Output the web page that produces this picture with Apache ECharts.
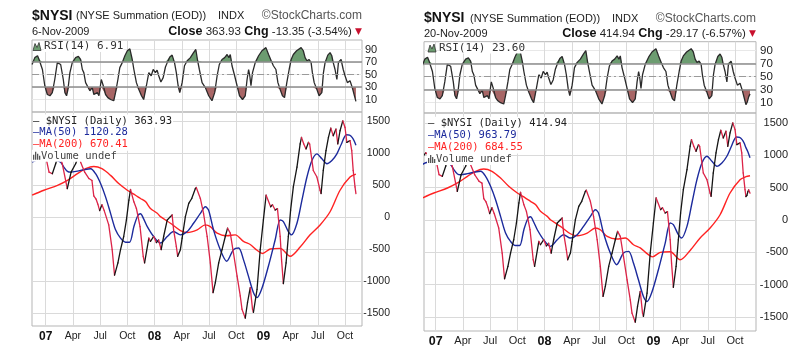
<!DOCTYPE html>
<html><head><meta charset="utf-8">
<script src="https://cdn.jsdelivr.net/npm/echarts@6/dist/echarts.min.js"></script>
<style>html,body{margin:0;padding:0;background:#fff}#c{width:807px;height:360px}</style>
</head><body><div id="c"></div>
<script>
// x = months since 1 Jan 2007
const xTickMonths = [0,3,6,9,12,15,18,21,24,27,30,33];
const xTickLabels = ['07','Apr','Jul','Oct','08','Apr','Jul','Oct','09','Apr','Jul','Oct'];
const rsiTicks = [10,30,50,70,90];
const mainTicks = [-1500,-1000,-500,0,500,1000,1500];

// $NYSI daily up to 6-Nov-2009
const nysi = [[-1.5,960],[-1.1,1040],[-0.7,990],[-0.3,1060],[0.1,882],[0.37,701],[0.73,676],[1.1,831],[1.45,1000],[1.83,831],[2.38,444],[2.8,700],[3.3,831],[3.7,980],[3.85,856],[4.3,700],[4.77,600],[5.1,570],[5.3,330],[5.55,280],[5.75,200],[5.95,100],[6.2,190],[6.45,100],[6.95,-124],[7.33,-511],[7.59,-908],[7.96,-717],[8.25,-511],[8.6,-305],[8.9,-46],[9.17,263],[9.35,429],[9.72,237],[10.0,134],[10.4,-150],[10.75,-614],[10.9,-717],[11.37,-330],[11.55,-381],[11.9,-305],[12.2,-400],[12.45,-360],[12.73,-511],[13.0,-305],[13.4,-46],[13.75,5],[13.94,31],[14.1,-201],[14.4,-459],[14.55,-614],[14.85,-511],[15.04,-330],[15.4,5],[15.77,212],[16.1,289],[16.5,444],[16.6,460],[17.05,289],[17.4,57],[17.8,-305],[18.15,-717],[18.45,-1181],[18.7,-1027],[19.07,-717],[19.44,-511],[19.8,-305],[20.05,-175],[20.35,-253],[20.7,-563],[21.1,-924],[21.45,-1234],[21.64,-1440],[22.0,-1580],[22.25,-1336],[22.55,-1104],[22.8,-1440],[22.9,-1491],[23.3,-1130],[23.65,-511],[24.0,-46],[24.3,341],[24.8,160],[25.0,190],[25.3,108],[25.55,130],[25.85,-305],[26.0,-666],[26.2,-1040],[26.5,-717],[26.75,-305],[27.0,108],[27.3,470],[27.7,779],[28.05,1141],[28.2,1243],[28.45,1141],[28.7,1063],[28.97,1166],[29.1,1140],[29.5,727],[29.9,624],[30.25,418],[30.36,367],[30.6,727],[30.9,1037],[31.17,1243],[31.43,1388],[31.7,1269],[32.0,1373],[32.2,1141],[32.45,1347],[32.75,1502],[33.0,1398],[33.2,1166],[33.55,1192],[33.74,1037],[33.9,727],[34.1,470],[34.2,364]];
const nysiNov = [[34.3,380],[34.42,440],[34.5,465],[34.58,440],[34.65,415]];

const ma50 = [[-1.5,856],[-1.0,890],[-0.3,900],[0.5,890],[1.2,880],[1.65,856],[2.0,780],[2.4,712],[2.75,701],[3.5,717],[4.2,738],[4.95,754],[5.5,676],[6.05,522],[6.6,314],[7.15,57],[7.7,-201],[8.25,-330],[8.8,-395],[9.25,-395],[9.72,-150],[10.15,20],[10.45,50],[10.8,-30],[11.2,-150],[11.9,-305],[12.65,-407],[13.4,-305],[14.1,-227],[14.85,-279],[15.6,-227],[16.3,-98],[17.05,57],[17.6,160],[17.95,108],[18.5,-201],[19.25,-511],[19.95,-691],[20.7,-511],[21.27,-485],[21.8,-666],[22.35,-924],[22.9,-1181],[23.3,-1259],[23.8,-1130],[24.55,-769],[25.3,-356],[25.85,-46],[26.2,-72],[26.75,-227],[27.1,-279],[27.7,-98],[28.25,263],[28.8,624],[29.35,882],[29.9,986],[30.45,909],[31.0,831],[31.55,882],[32.1,986],[32.6,1141],[33.15,1285],[33.5,1278],[33.8,1240],[34.0,1190],[34.2,1120]];
const ma50Nov = [[34.4,1060],[34.65,964]];

const ma200 = [[-1.5,340],[-0.2,418],[1.3,495],[2.4,573],[3.5,676],[4.4,754],[5.3,789],[6.2,754],[7.15,650],[8.05,522],[9.0,418],[9.9,340],[10.45,289],[11.0,240],[11.55,134],[12.3,57],[12.65,5],[13.75,-98],[14.85,-212],[15.6,-243],[16.7,-201],[17.6,-124],[18.15,-150],[18.9,-253],[19.95,-294],[20.9,-279],[21.8,-382],[22.55,-430],[23.3,-520],[23.9,-570],[24.75,-500],[25.85,-490],[26.95,-614],[28.05,-470],[29.15,-279],[30.25,-124],[31.35,82],[32.45,418],[33.55,624],[34.2,670]];
const ma200Nov = [[34.65,685]];

const rsi = [[-1.5,66],[-1.2,77],[-0.9,80],[-0.73,74],[-0.55,76],[-0.36,58],[-0.1,32],[0.18,18],[0.47,16],[0.73,21],[1.0,42],[1.28,69],[1.45,70],[1.65,66],[1.8,67],[1.94,42],[2.12,21],[2.3,16],[2.45,26],[2.67,53],[2.93,69],[3.3,77],[3.6,79],[3.85,74],[4.04,58],[4.2,53],[4.4,37],[4.6,40],[4.87,24],[5.13,29],[5.31,18],[5.5,20],[5.69,21],[5.87,16],[6.13,42],[6.35,32],[6.6,18],[6.85,13],[7.15,10],[7.5,8],[7.7,21],[7.96,42],[8.17,61],[8.44,69],[8.73,80],[9.0,88],[9.28,91],[9.54,74],[9.72,58],[10.0,37],[10.27,26],[10.56,16],[10.8,10],[11.1,32],[11.37,53],[11.63,48],[11.85,58],[12.1,53],[12.28,57],[12.46,48],[12.7,38],[12.95,45],[13.2,62],[13.4,69],[13.68,78],[13.94,81],[14.2,69],[14.4,53],[14.6,32],[14.78,21],[15.04,37],[15.3,64],[15.6,72],[15.95,77],[16.3,85],[16.55,90],[16.75,72],[16.94,58],[17.24,37],[17.6,29],[17.97,16],[18.33,8],[18.63,21],[18.9,48],[19.14,66],[19.44,74],[19.73,77],[20.0,82],[20.2,77],[20.35,82],[20.54,64],[20.83,48],[21.1,32],[21.37,16],[21.7,10],[22.0,16],[22.2,42],[22.37,58],[22.5,48],[22.63,32],[22.8,53],[23.1,69],[23.47,80],[23.84,88],[24.28,93],[24.57,82],[24.86,72],[25.1,64],[25.38,58],[25.6,37],[25.85,26],[26.1,16],[26.33,13],[26.58,37],[26.84,58],[27.06,74],[27.3,82],[27.66,88],[28.16,93],[28.4,88],[28.6,77],[28.8,72],[29.04,74],[29.26,69],[29.4,53],[29.6,37],[29.9,26],[30.14,16],[30.44,21],[30.62,53],[30.8,69],[31.1,81],[31.35,85],[31.54,80],[31.7,69],[31.9,58],[32.1,42],[32.27,69],[32.56,74],[32.8,58],[33.0,48],[33.26,37],[33.55,40],[33.8,29],[34.0,18],[34.2,7]];
const rsiNov = [[34.35,11],[34.5,19],[34.65,23.6]];

const panelTexts = [
  {date:'6-Nov-2009', close:'363.93', chg:'-13.35 (-3.54%)', rsi:'RSI(14) 6.91', px:'363.93', m50:'1120.28', m200:'670.41'},
  {date:'20-Nov-2009', close:'414.94', chg:'-29.17 (-6.57%)', rsi:'RSI(14) 23.60', px:'414.94', m50:'963.79', m200:'684.55'}
];

const panels = [
  {left:32, width:330, rsiTop:40, rsiBottom:112, mainTop:112, mainBottom:326, xMin:-1.51, xMax:34.87, rsiMin:-10, rsiMax:105.2, yMin:-1703, yMax:1640, yMargin:28, rMargin:3, fs:10.5, xMarg:5, extra:false,
   titleY:16, dateY:31.5, rsiLegY:46.5, legY:121, legStep:11.6, legX:33, titleX:[32,76,218], right:362},
  {left:424, width:332, rsiTop:41.7, rsiBottom:113, mainTop:113, mainBottom:331, xMin:-1.29, xMax:35.31, rsiMin:-5.8, rsiMax:103.8, yMin:-1716, yMax:1655, yMargin:32, rMargin:4, fs:11, xMarg:4, extra:true,
   titleY:18.5, dateY:34, rsiLegY:48, legY:123.3, legStep:11.9, legX:428, titleX:[424,470,612], right:756}
];

const COL = {up:'#151515', down:'#dc2448', ma50:'#1c2a9c', ma200:'#ff2222', rsi:'#2a2a2a', green:'#6c9c70', brown:'#a86666', grid:'#dadada', frame:'#b5b5b5'};

function segs(arr){const o=[];for(let i=1;i<arr.length;i++)o.push([arr[i-1][0],arr[i-1][1],arr[i][0],arr[i][1]]);return o;}

const grids=[], xAxes=[], yAxes=[], series=[], graphics=[];
panels.forEach((p,i)=>{
  const T = panelTexts[i];
  const price = p.extra ? nysi.concat(nysiNov) : nysi;
  const m50 = p.extra ? ma50.concat(ma50Nov) : ma50;
  const m200 = p.extra ? ma200.concat(ma200Nov) : ma200;
  const r = p.extra ? rsi.concat(rsiNov) : rsi;
  const gR = grids.length;
  grids.push({left:p.left, top:p.rsiTop, width:p.width, height:p.rsiBottom-p.rsiTop, show:true, borderColor:COL.frame, borderWidth:1, containLabel:false});
  const gM = grids.length;
  grids.push({left:p.left, top:p.mainTop, width:p.width, height:p.mainBottom-p.mainTop, show:true, borderColor:COL.frame, borderWidth:1, containLabel:false});
  [gR,gM].forEach((g,k)=>{
    xAxes.push({type:'value', gridIndex:g, min:p.xMin, max:p.xMax,
      axisLine:{show:false}, axisTick:{show:false, customValues:xTickMonths},
      axisLabel:{show:k===1, customValues:xTickMonths, margin:p.xMarg, fontSize:p.fs, color:'#222', fontFamily:'Liberation Sans, Arial',
        formatter:v=>{const idx=xTickMonths.indexOf(Math.round(v)); const s=xTickLabels[idx]||''; return (Math.round(v)%12===0)?'{y|'+s+'}':s;},
        rich:{y:{fontWeight:'bold', fontSize:p.fs+1.5, color:'#111', fontFamily:'Liberation Sans, Arial'}}},
      splitLine:{show:true, lineStyle:{color:COL.grid, width:1}}});
  });
  const yR = yAxes.length;
  yAxes.push({type:'value', gridIndex:gR, position:'right', min:p.rsiMin, max:p.rsiMax,
    axisLine:{show:false}, axisTick:{show:false, customValues:rsiTicks},
    axisLabel:{customValues:rsiTicks, margin:p.rMargin, fontSize:p.fs+0.5, color:'#222', fontFamily:'Liberation Sans, Arial', formatter:v=>String(Math.round(v))},
    splitLine:{show:true, lineStyle:{color:'#e8e8e8', width:1}}});
  const yM = yAxes.length;
  yAxes.push({type:'value', gridIndex:gM, position:'right', min:p.yMin, max:p.yMax,
    axisLine:{show:false}, axisTick:{show:false, customValues:mainTicks},
    axisLabel:{customValues:mainTicks, margin:p.yMargin, align:'right', fontSize:p.fs, color:'#222', fontFamily:'Liberation Sans, Arial', formatter:v=>String(Math.round(v))},
    splitLine:{show:true, lineStyle:{color:COL.grid, width:1}}});
  const xR = gR, xM = gM;
  // RSI fills
  series.push({type:'line', xAxisIndex:xR, yAxisIndex:yR, data:r.map(d=>[d[0],Math.max(d[1],70)]), symbol:'none', silent:true,
    lineStyle:{width:0, opacity:0}, areaStyle:{origin:70, color:COL.green, opacity:1}, z:2});
  series.push({type:'line', xAxisIndex:xR, yAxisIndex:yR, data:r.map(d=>[d[0],Math.min(d[1],30)]), symbol:'none', silent:true,
    lineStyle:{width:0, opacity:0}, areaStyle:{origin:30, color:COL.brown, opacity:1}, z:2});
  series.push({type:'line', xAxisIndex:xR, yAxisIndex:yR, data:r, symbol:'none', silent:true,
    lineStyle:{width:1.3, color:COL.rsi}, z:4,
    markLine:{silent:true, symbol:'none', label:{show:false}, animation:false,
      data:[{yAxis:70, lineStyle:{color:'#8c8c8c', width:1.5, type:'solid'}},
            {yAxis:30, lineStyle:{color:'#8c8c8c', width:1.5, type:'solid'}},
            {yAxis:50, lineStyle:{color:'#9a9a9a', width:1, type:[7,3,2,3]}}]}});
  // main
  series.push({type:'line', xAxisIndex:xM, yAxisIndex:yM, data:m200, symbol:'none', smooth:0.3, silent:true, lineStyle:{width:1.4, color:COL.ma200}, z:3});
  series.push({type:'line', xAxisIndex:xM, yAxisIndex:yM, data:m50, symbol:'none', smooth:0.3, silent:true, lineStyle:{width:1.4, color:COL.ma50}, z:3});
  series.push({type:'custom', xAxisIndex:xM, yAxisIndex:yM, clip:true, silent:true, z:4,
    dimensions:['x0','y0','x1','y1'], encode:{x:[0,2], y:[1,3]}, data:segs(price),
    renderItem:(params, api)=>{
      const a=api.coord([api.value(0),api.value(1)]), b=api.coord([api.value(2),api.value(3)]);
      const up = api.value(3) >= api.value(1);
      return {type:'line', shape:{x1:a[0],y1:a[1],x2:b[0],y2:b[1]}, style:{stroke: up?COL.up:COL.down, lineWidth:1.3, lineCap:'round', fill:null}};
    }});

  // header texts
  const F='Liberation Sans, Arial, sans-serif';
  graphics.push({type:'text', x:p.titleX[0], y:p.titleY, style:{text:'$NYSI', font:'bold 14px '+F, fill:'#111', verticalAlign:'middle'}});
  graphics.push({type:'text', x:p.titleX[1], y:p.titleY, style:{text:'(NYSE Summation (EOD))', font:'11px '+F, fill:'#222', verticalAlign:'middle'}});
  graphics.push({type:'text', x:p.titleX[2], y:p.titleY, style:{text:'INDX', font:'11px '+F, fill:'#222', verticalAlign:'middle'}});
  graphics.push({type:'text', x:p.right, y:p.titleY, style:{text:'\u00a9StockCharts.com', font:'12px '+F, fill:'#555', align:'right', verticalAlign:'middle'}});
  graphics.push({type:'text', x:p.titleX[0], y:p.dateY, style:{text:T.date, font:'11px '+F, fill:'#222', verticalAlign:'middle'}});
  graphics.push({type:'text', x:p.right, y:p.dateY, style:{
    text:'{b|Close} {n|'+T.close+'} {b|Chg} {n|'+T.chg+'} {r|\u25BC}', align:'right', verticalAlign:'middle',
    rich:{b:{font:'bold 12.5px '+F, fill:'#111'}, n:{font:'11.5px '+F, fill:'#222'}, r:{font:'9px DejaVu Sans', fill:'#c8102e'}}}});
  // RSI legend
  const lx=p.legX;
  graphics.push({type:'polygon', z:100, shape:{points:[[lx,p.rsiLegY+4],[lx+2,p.rsiLegY-3],[lx+4,p.rsiLegY+1],[lx+6,p.rsiLegY-4],[lx+8,p.rsiLegY+4]]}, style:{fill:COL.green, stroke:'#333', lineWidth:0.8}});
  graphics.push({type:'text', z:100, x:lx+11, y:p.rsiLegY, style:{text:T.rsi, font:'11px DejaVu Sans Mono', fill:'#333', verticalAlign:'middle', backgroundColor:'#fff'}});
  // main legend
  const M='10.5px DejaVu Sans Mono';
  const rows=[
    {t:'\u2014 $NYSI (Daily) '+T.px, c:'#222'},
    {t:'\u2014MA(50) '+T.m50, c:COL.ma50},
    {t:'\u2014MA(200) '+T.m200, c:COL.ma200}
  ];
  rows.forEach((rw,k)=>{
    graphics.push({type:'text', z:100, x:lx, y:p.legY+k*p.legStep, style:{text:rw.t, font:M, fill:rw.c, verticalAlign:'middle', backgroundColor:'#fff', padding:[1,1,1,0]}});
  });
  const vy=p.legY+3*p.legStep;
  graphics.push({type:'rect', z:100, shape:{x:lx-1, y:vy-6, width:82, height:12}, style:{fill:'#fff'}});
  [[0,5],[2,8],[4,6],[6,4]].forEach(b=>graphics.push({type:'rect', z:101, shape:{x:lx+b[0], y:vy+4-b[1], width:1.3, height:b[1]}, style:{fill:'#555'}}));
  graphics.push({type:'text', z:101, x:lx+8, y:vy, style:{text:'Volume undef', font:M, fill:'#444', verticalAlign:'middle'}});
});

const chart = echarts.init(document.getElementById('c'), null, {renderer:'canvas'});
chart.setOption({animation:false, backgroundColor:'#fff', grid:grids, xAxis:xAxes, yAxis:yAxes, series:series, graphic:graphics});
</script></body></html>
